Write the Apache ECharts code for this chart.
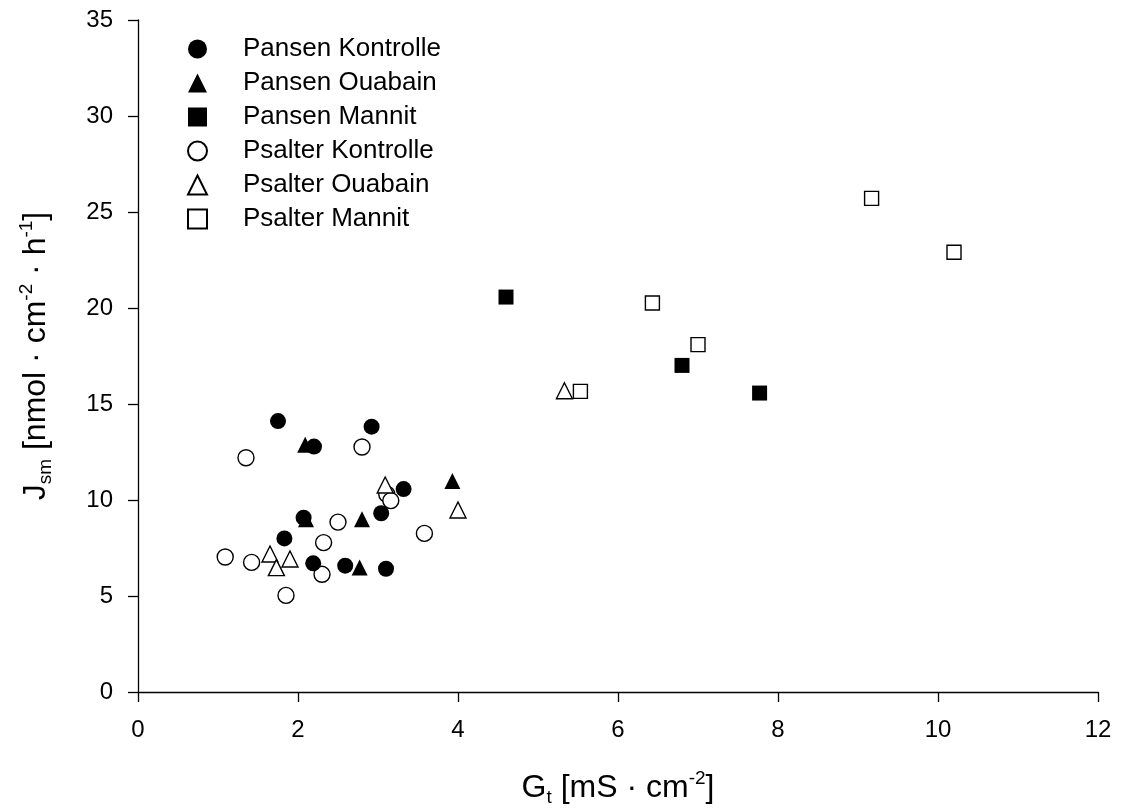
<!DOCTYPE html>
<html>
<head>
<meta charset="utf-8">
<script src="https://cdn.jsdelivr.net/npm/echarts@6/dist/echarts.min.js"></script>
<style>
html,body{margin:0;padding:0;background:#fff;}
#chart{width:1121px;height:812px;}
</style>
</head>
<body>
<div id="chart"></div>
<script>
const seriesNames = ['Pansen Kontrolle','Pansen Ouabain','Pansen Mannit','Psalter Kontrolle','Psalter Ouabain','Psalter Mannit'];
const pansenKontrolle = [[1.75,14.11],[2.20,12.78],[2.92,13.82],[3.32,10.57],[3.04,9.31],[2.07,9.08],[1.83,8.00],[2.19,6.70],[2.59,6.58],[3.10,6.42]];
const pansenOuabain = [[2.09,12.88],[2.80,9.00],[3.93,10.99],[2.77,6.48],[2.10,9.00]];
const pansenMannit = [[4.60,20.57],[6.80,17.01],[7.77,15.57]];
const psalterKontrolle = [[1.35,12.20],[2.80,12.76],[3.11,10.30],[3.16,9.97],[2.50,8.85],[3.58,8.26],[2.32,7.78],[1.09,7.03],[1.42,6.75],[2.30,6.13],[1.85,5.03]];
const psalterOuabain = [[3.09,10.78],[4.00,9.48],[1.65,7.19],[1.90,6.93],[1.73,6.48],[5.33,15.69]];
const psalterMannit = [[9.17,25.71],[6.43,20.26],[7.00,18.09],[5.53,15.66],[10.20,22.90]];
const xTicks = [0,2,4,6,8,10,12];
const yTicks = [0,5,10,15,20,25,30,35];

const FONT = 'Liberation Sans, Arial, sans-serif';
function mk(name, data, symbol, filled, size){
  return {
    name: name, type: 'scatter', data: data, symbol: symbol, symbolSize: size,
    itemStyle: filled ? {color:'#000', borderColor:'#000', borderWidth:0, opacity:1}
                      : {color:'#fff', borderColor:'#000', borderWidth:1.4, opacity:1},
    emphasis: {disabled:true}
  };
}
const richT = {
  a:{fontFamily:FONT, fontSize:32, color:'#000', lineHeight:38},
  sub:{fontFamily:FONT, fontSize:19, color:'#000', lineHeight:19, verticalAlign:'bottom'},
  sup:{fontFamily:FONT, fontSize:19, color:'#000', lineHeight:19, verticalAlign:'top'}
};
const chart = echarts.init(document.getElementById('chart'), null, {renderer:'canvas'});
chart.setOption({
  animation: false,
  backgroundColor: '#fff',
  textStyle: {fontFamily: FONT, color:'#000'},
  grid: {left:138, right:23, top:20, bottom:120, containLabel:false},
  legend: {
    orient:'vertical', left:182, top:31, itemWidth:19, itemHeight:19, itemGap:8,
    data: seriesNames,
    textStyle:{fontFamily:FONT, fontSize:26, color:'#000', padding:[0,0,0,31]},
    selectedMode:false
  },
  xAxis: {
    type:'value', min:xTicks[0], max:xTicks[xTicks.length-1], interval:2,
    name:'{a|G}{sub|t}{a| [mS · cm}{sup|-2}{a|]}', nameLocation:'middle', nameGap:77,
    nameTextStyle:{rich:richT},
    axisLine:{show:true, onZero:false, lineStyle:{color:'#000', width:1.3}},
    axisTick:{show:true, inside:false, length:10, lineStyle:{color:'#000', width:1.3}},
    axisLabel:{fontFamily:FONT, fontSize:24, color:'#000', margin:26},
    splitLine:{show:false}
  },
  yAxis: {
    type:'value', min:yTicks[0], max:yTicks[yTicks.length-1], interval:5,
    name:'{a|J}{sub|sm}{a| [nmol · cm}{sup|-2}{a| · h}{sup|-1}{a|]}', nameLocation:'middle', nameGap:83, nameRotate:90,
    nameTextStyle:{rich:richT},
    axisLine:{show:true, onZero:false, lineStyle:{color:'#000', width:1.3}},
    axisTick:{show:true, inside:false, length:10, lineStyle:{color:'#000', width:1.3}},
    axisLabel:{fontFamily:FONT, fontSize:24, color:'#000', margin:25},
    splitLine:{show:false}
  },
  series: [
    mk(seriesNames[3], psalterKontrolle, 'circle', false, 16),
    mk(seriesNames[4], psalterOuabain, 'triangle', false, 16),
    mk(seriesNames[5], psalterMannit, 'rect', false, 14),
    mk(seriesNames[0], pansenKontrolle, 'circle', true, 16),
    mk(seriesNames[1], pansenOuabain, 'triangle', true, 16),
    mk(seriesNames[2], pansenMannit, 'rect', true, 15)
  ]
});
</script>
</body>
</html>
